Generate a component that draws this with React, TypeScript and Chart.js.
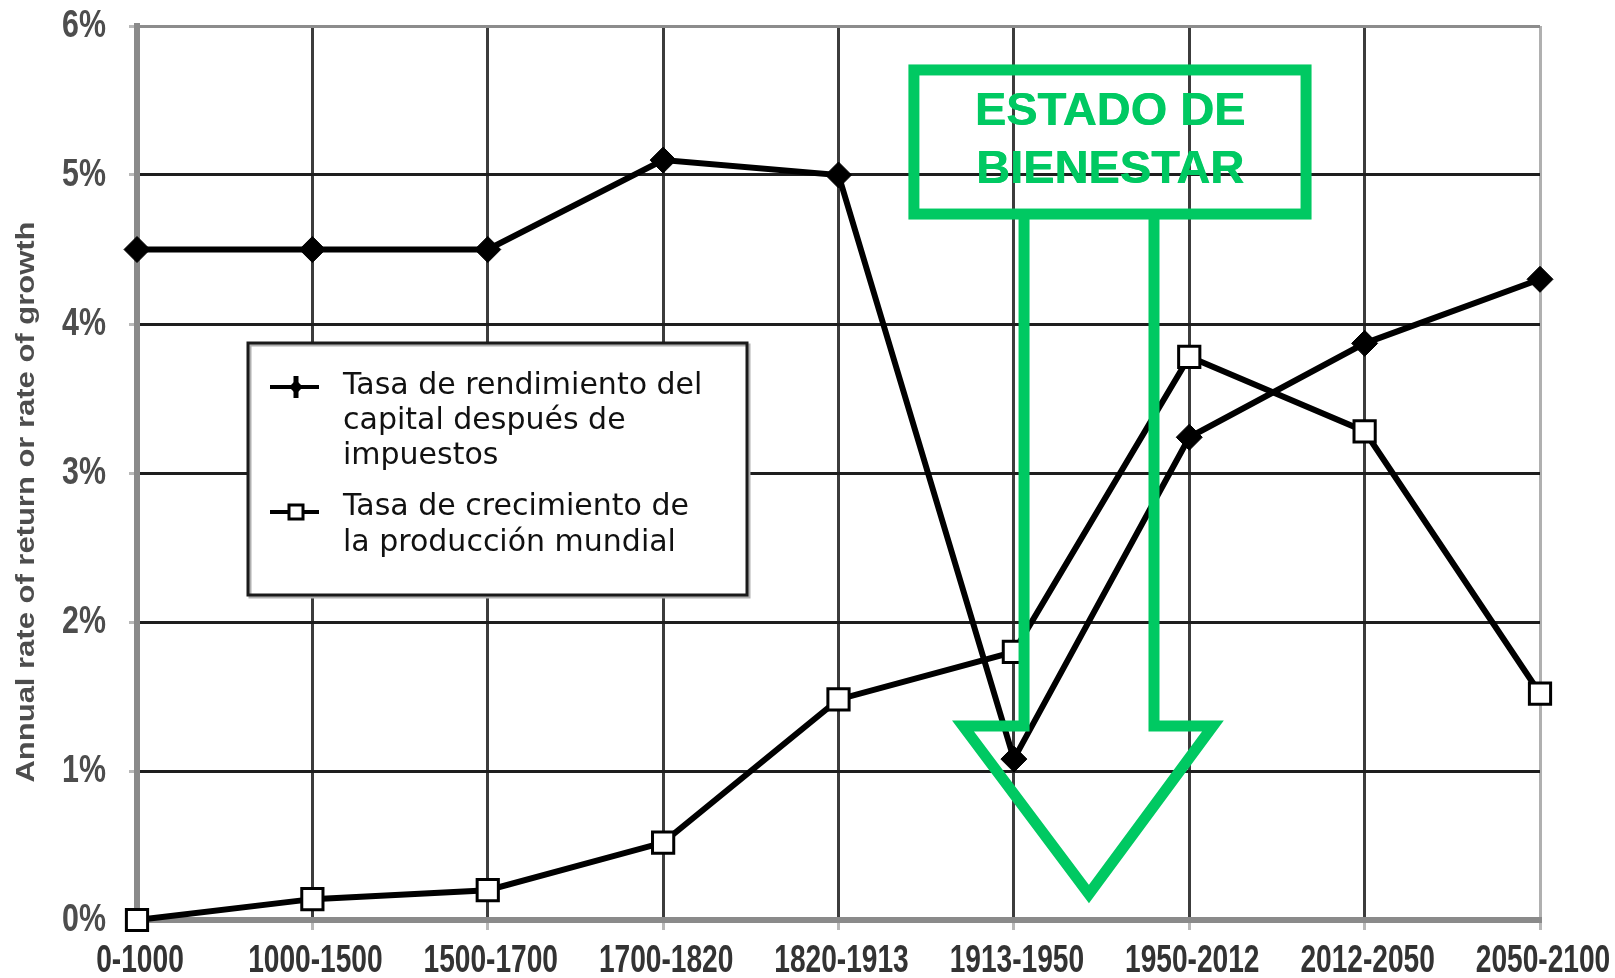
import React, { useEffect, useRef } from 'react';
import { Chart, registerables } from 'chart.js';

Chart.register(...registerables);

const periods = ['0-1000', '1000-1500', '1500-1700', '1700-1820', '1820-1913', '1913-1950', '1950-2012', '2012-2050', '2050-2100'];
const capitalReturn = [4.5, 4.5, 4.5, 5.1, 5.0, 1.08, 3.24, 3.87, 4.3];
const outputGrowth = [0, 0.14, 0.2, 0.52, 1.48, 1.8, 3.78, 3.28, 1.52];
const yTicks = [0, 1, 2, 3, 4, 5, 6];
const seriesNames = ['Tasa de rendimiento del capital después de impuestos', 'Tasa de crecimiento de la producción mundial'];
const legendLines = [['Tasa de rendimiento del', 'capital después de', 'impuestos'], ['Tasa de crecimiento de', 'la producción mundial']];
const yTitle = 'Annual rate of return or rate of growth';
const bannerLines = ['ESTADO DE', 'BIENESTAR'];

// Annotation geometry in data space (category index, percent)
const banner = { left: 4.43, right: 6.666, top: 5.705, bottom: 4.738, textX: 5.548, textY: [5.42, 5.035] };
const arrow = { shaftL: 5.058, shaftR: 5.799, headTop: 1.302, headL: 4.71, headR: 6.135, tipX: 5.428, tipY: 0.174 };

const GREEN = '#00c962';
const SANS = "'Liberation Sans', Arial, sans-serif";

const overlayPlugin = {
  id: 'overlay',
  afterDatasetsDraw(chart: any) {
    const ctx = chart.ctx;
    const xs = chart.scales.x;
    const ys = chart.scales.y;
    const px = (v: number) => xs.getPixelForValue(v);
    const py = (v: number) => ys.getPixelForValue(v);

    // Green banner + arrow
    ctx.save();
    ctx.strokeStyle = GREEN;
    ctx.lineWidth = 11;
    ctx.lineJoin = 'miter';
    ctx.strokeRect(px(banner.left), py(banner.top), px(banner.right) - px(banner.left), py(banner.bottom) - py(banner.top));
    ctx.beginPath();
    ctx.moveTo(px(arrow.shaftL), py(banner.bottom) + 5);
    ctx.lineTo(px(arrow.shaftL), py(arrow.headTop));
    ctx.lineTo(px(arrow.headL), py(arrow.headTop));
    ctx.lineTo(px(arrow.tipX), py(arrow.tipY));
    ctx.lineTo(px(arrow.headR), py(arrow.headTop));
    ctx.lineTo(px(arrow.shaftR), py(arrow.headTop));
    ctx.lineTo(px(arrow.shaftR), py(banner.bottom) + 5);
    ctx.stroke();
    ctx.fillStyle = GREEN;
    ctx.font = `bold 47px ${SANS}`;
    ctx.textAlign = 'center';
    ctx.textBaseline = 'middle';
    bannerLines.forEach((t, i) => {
      ctx.fillText(t, px(banner.textX), py(banner.textY[i]));
      ctx.fillText(t, px(banner.textX) + 0.6, py(banner.textY[i]));
    });
    ctx.restore();

    // Legend box
    ctx.save();
    const L = 248, T = 343, R = 747, B = 595;
    ctx.fillStyle = '#fff';
    ctx.fillRect(L, T, R - L, B - T);
    ctx.strokeStyle = '#b0b0b0';
    ctx.lineWidth = 3;
    ctx.strokeRect(L + 2, T + 2, R - L, B - T);
    ctx.strokeStyle = '#1a1a1a';
    ctx.lineWidth = 3;
    ctx.strokeRect(L, T, R - L, B - T);

    // markers
    ctx.strokeStyle = '#000';
    ctx.lineWidth = 4;
    ctx.beginPath();
    ctx.moveTo(270, 387); ctx.lineTo(319, 387);
    ctx.moveTo(270, 512); ctx.lineTo(319, 512);
    ctx.stroke();
    ctx.lineWidth = 5;
    ctx.beginPath();
    ctx.moveTo(296, 376); ctx.lineTo(296, 398);
    ctx.stroke();
    ctx.fillStyle = '#000';
    ctx.beginPath();
    ctx.moveTo(296, 380); ctx.lineTo(303, 387); ctx.lineTo(296, 394); ctx.lineTo(289, 387); ctx.closePath();
    ctx.fill();
    ctx.fillStyle = '#fff';
    ctx.lineWidth = 3;
    ctx.fillRect(289, 505, 14, 14);
    ctx.strokeRect(289, 505, 14, 14);

    ctx.fillStyle = '#111';
    ctx.font = "30px 'DejaVu Sans', Verdana, sans-serif";
    ctx.textAlign = 'left';
    ctx.textBaseline = 'middle';
    const rows = [[386, 421, 456], [507, 543]];
    legendLines.forEach((lines, s) => lines.forEach((t, i) => ctx.fillText(t, 343, rows[s][i])));
    ctx.restore();
  },
  afterDraw(chart: any) {
    const ctx = chart.ctx;
    const xs = chart.scales.x;
    const ys = chart.scales.y;

    // Axis tick labels (condensed look) at the library's tick positions
    ctx.save();
    ctx.textBaseline = 'middle';
    ctx.fillStyle = '#333';
    ctx.font = `bold 38px ${SANS}`;
    ctx.textAlign = 'center';
    xs.ticks.forEach((t: any, i: number) => {
      const label = xs.getLabelForValue(t.value);
      ctx.save();
      ctx.translate(xs.getPixelForTick(i) + 3, 962);
      ctx.scale(0.74, 1);
      ctx.fillText(label, 0, 0);
      ctx.restore();
    });
    ctx.fillStyle = '#4d4d4d';
    ctx.textAlign = 'right';
    ys.ticks.forEach((t: any, i: number) => {
      ctx.save();
      ctx.translate(106, ys.getPixelForTick(i) + 1);
      ctx.scale(0.8, 1);
      ctx.fillText(`${t.value}%`, 0, 0);
      ctx.restore();
    });
    ctx.restore();

    // Y axis title (stretched)
    ctx.save();
    ctx.fillStyle = '#4d4d4d';
    ctx.font = `bold 25px ${SANS}`;
    ctx.textAlign = 'center';
    ctx.textBaseline = 'middle';
    ctx.translate(27, 502);
    ctx.rotate(-Math.PI / 2);
    const w = ctx.measureText(yTitle).width;
    ctx.scale(561 / w, 1);
    ctx.fillText(yTitle, 0, 0);
    ctx.restore();
  },
};

export default function App() {
  const ref = useRef<HTMLCanvasElement>(null);
  useEffect(() => {
    if (!ref.current) return;
    const chart = new Chart(ref.current, {
      type: 'line',
      data: {
        labels: periods,
        datasets: [
          {
            label: seriesNames[0],
            data: capitalReturn,
            borderColor: '#000',
            borderWidth: 6,
            pointStyle: 'rectRot',
            pointRadius: 13,
            pointBackgroundColor: '#000',
            pointBorderColor: '#000',
            pointBorderWidth: 1,
            tension: 0,
            clip: false as any,
          },
          {
            label: seriesNames[1],
            data: outputGrowth,
            borderColor: '#000',
            borderWidth: 6,
            pointStyle: 'rect',
            pointRadius: 15,
            pointBackgroundColor: '#fff',
            pointBorderColor: '#000',
            pointBorderWidth: 3,
            tension: 0,
            clip: false as any,
          },
        ],
      },
      options: {
        responsive: false,
        animation: false,
        layout: { padding: { left: 0, top: 26, right: 75, bottom: 0 } },
        plugins: { legend: { display: false }, tooltip: { enabled: false } },
        scales: {
          x: {
            type: 'category',
            offset: false,
            afterFit: (s: any) => { s.height = 58; },
            border: { color: '#8a8a8a', width: 6 },
            grid: {
              color: (c: any) => (c.index === periods.length - 1 ? '#b0b0b0' : c.index === 0 ? '#8a8a8a' : '#3c3c3c'),
              lineWidth: 3,
              tickColor: '#b8b8b8',
              tickLength: 10,
            },
            ticks: { display: false, autoSkip: false, maxRotation: 0 },
          },
          y: {
            min: 0,
            max: 6,
            afterFit: (s: any) => { s.width = 137; },
            afterBuildTicks: (s: any) => { s.ticks = yTicks.map((v) => ({ value: v })); },
            border: { color: '#8a8a8a', width: 6 },
            grid: {
              color: (c: any) => (c.tick && c.tick.value === 6 ? '#8c8c8c' : c.tick && c.tick.value === 0 ? '#8a8a8a' : '#1e1e1e'),
              lineWidth: 3,
              tickColor: '#b8b8b8',
              tickLength: 8,
            },
            ticks: { display: false, callback: (v: any) => `${v}%` },
          },
        },
      },
      plugins: [overlayPlugin],
    });
    return () => chart.destroy();
  }, []);

  return (
    <div style={{ position: 'fixed', left: 0, top: 0, width: 1615, height: 978, background: '#fff' }}>
      <canvas ref={ref} width={1615} height={978} />
    </div>
  );
}
